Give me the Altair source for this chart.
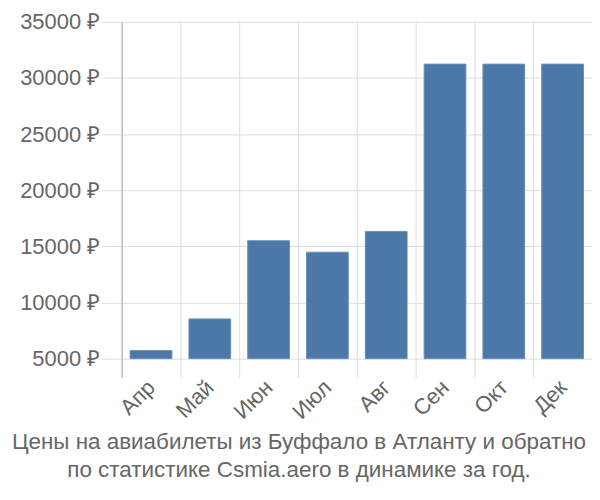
import altair as alt
import pandas as pd

months = ["Апр", "Май", "Июн", "Июл", "Авг", "Сен", "Окт", "Дек"]
prices = [5720, 8540, 15500, 14480, 16330, 31230, 31230, 31230]
y_ticks = [5000, 10000, 15000, 20000, 25000, 30000, 35000]
base_value = 5000
title_lines = ["Цены на авиабилеты из Буффало в Атланту и обратно",
               "по статистике Csmia.aero в динамике за год."]

df = pd.DataFrame({"month": months, "price": prices})

chart = alt.Chart(df).mark_bar(color="#4c78a8", stroke="#6a8fbb", strokeWidth=1,
                               width=alt.RelativeBandSize(0.71)).encode(
    x=alt.X("month:N", sort=months,
            scale=alt.Scale(paddingInner=0, paddingOuter=0),
            axis=alt.Axis(title=None, labelAngle=-45, labelFontSize=22, labelColor="#666666",
                          labelFont="Liberation Sans", domain=False, ticks=False,
                          grid=True, gridColor="#dddddd", tickBand="extent",
                          labelAlign="right", labelBaseline="middle", labelPadding=6)),
    y=alt.Y("price:Q", scale=alt.Scale(domain=[3314, 35000], nice=False, zero=False),
            axis=alt.Axis(title=None, values=y_ticks, format="d", labelExpr="datum.value + ' ₽'",
                          labelFontSize=22, labelColor="#666666", labelFont="Liberation Sans",
                          tickSize=20, tickColor="#dddddd", labelPadding=2,
                          gridColor="#dddddd", domainColor="#aaaaaa")),
    y2=alt.datum(base_value),
).properties(
    width=472, height=357,
    autosize=alt.AutoSizeParams(type="none"),
    padding={"left": 114, "top": 13, "right": 0, "bottom": 120},
    title=alt.TitleParams(text=title_lines, orient="bottom", anchor="middle", fontSize=22.5,
                          font="Liberation Sans", fontWeight="normal", color="#666666",
                          offset=8, lineHeight=28, dx=-58),
).configure_view(stroke=None)

chart.save("out.html", embed_options={"renderer": "svg", "actions": False})
